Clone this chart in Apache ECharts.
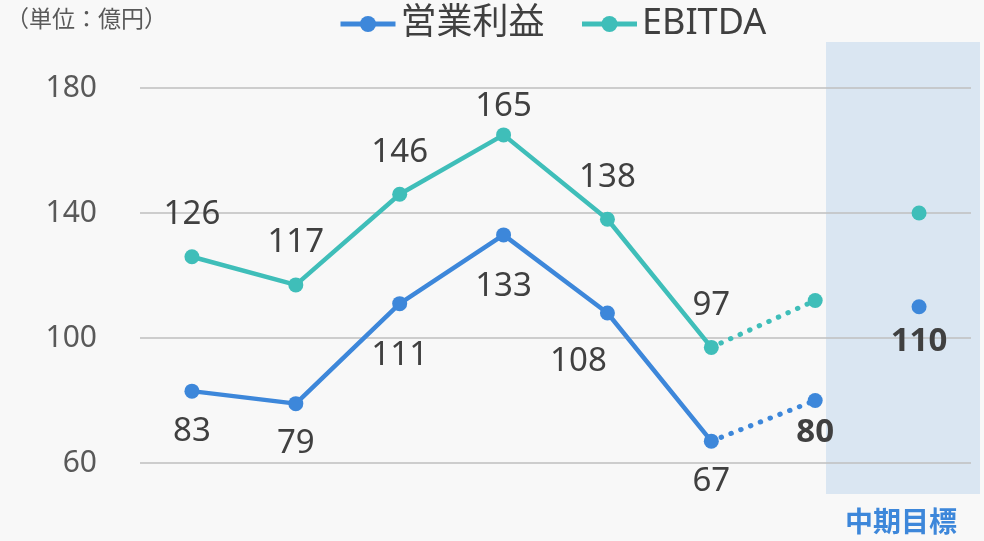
<!DOCTYPE html>
<html>
<head>
<meta charset="utf-8">
<script src="https://cdn.jsdelivr.net/npm/echarts@6/dist/echarts.min.js"></script>
<style>
  html, body { margin: 0; padding: 0; background: #f8f8f8; }
  #chart { width: 984px; height: 541px; }
</style>
</head>
<body>
<div id="chart"></div>
<script>
// 横軸のカテゴリ（ラベルは非表示）
const categories = ['1', '2', '3', '4', '5', '6', '7', '中期目標'];
// 営業利益：実績、見通し、中期目標
const opActual = [83, 79, 111, 133, 108, 67];
const opForecast = 80;
const opTarget = 110;
// EBITDA：実績、見通し、中期目標
const ebitdaActual = [126, 117, 146, 165, 138, 97];
const ebitdaForecast = 112;
const ebitdaTarget = 140;
// 縦軸の目盛
const yTicks = [60, 100, 140, 180];

const BLUE = '#3d87da';
const TEAL = '#3fbeb9';
const FONT = '"Noto Sans", "Noto Sans CJK JP", sans-serif';

const chart = echarts.init(document.getElementById('chart'));

// 実績の最後の点から見通しへの点線データ
function forecastData(actual, forecast) {
  const arr = categories.map(() => '-');
  arr[actual.length - 1] = actual[actual.length - 1];
  arr[actual.length] = forecast;
  return arr;
}
function targetData(target) {
  const arr = categories.map(() => '-');
  arr[categories.length - 1] = target;
  return arr;
}
function pad(actual) {
  return categories.map((c, i) => (i < actual.length ? actual[i] : '-'));
}
// ラベル位置の微調整（インデックス → オフセット）
function nudge(data, offsets) {
  return data.map((v, i) =>
    offsets[i] ? { value: v, label: { offset: offsets[i] } } : v
  );
}

const labelBase = {
  show: true,
  fontFamily: FONT,
  fontSize: 33,
  color: '#404040',
};

const option = {
  backgroundColor: '#f8f8f8',
  animation: false,
  legend: {
    left: 333,
    top: 1,
    itemWidth: 55,
    itemHeight: 20,
    itemGap: 35,
    lineStyle: { width: 5 },
    textStyle: { fontFamily: FONT, fontSize: 36, color: '#404040' },
    data: ['営業利益', 'EBITDA'],
  },
  graphic: [
    {
      type: 'rect',
      z: -10,
      shape: { x: 826, y: 42, width: 154, height: 452 },
      style: { fill: '#dae6f2' },
    },
    {
      type: 'text',
      left: 6,
      top: 9,
      style: {
        text: '（単位：億円）',
        fontFamily: FONT,
        fontSize: 23,
        fill: '#595959',
      },
    },
    {
      type: 'text',
      left: 845,
      top: 510,
      style: {
        text: '中期目標',
        fontFamily: FONT,
        fontSize: 28,
        fontWeight: 'bold',
        fill: BLUE,
      },
    },
  ],
  grid: { left: 140, right: 13, top: 88, bottom: 78 },
  xAxis: {
    type: 'category',
    data: categories,
    boundaryGap: true,
    axisLine: { show: false },
    axisTick: { show: false },
    axisLabel: { show: false },
  },
  yAxis: {
    type: 'value',
    min: yTicks[0],
    max: yTicks[yTicks.length - 1],
    interval: yTicks[1] - yTicks[0],
    axisLine: { show: false },
    axisTick: { show: false },
    axisLabel: {
      margin: 43,
      fontFamily: FONT,
      fontSize: 30,
      color: '#595959',
    },
    splitLine: { lineStyle: { color: '#bfbfbf', width: 1.5 } },
  },
  series: [
    {
      name: '営業利益',
      type: 'line',
      data: nudge(pad(opActual), { 2: [0, 12], 3: [0, 12], 4: [-29, 9] }),
      symbol: 'circle',
      symbolSize: 15,
      color: BLUE,
      lineStyle: { width: 4.5, color: BLUE },
      label: Object.assign({}, labelBase, { position: 'bottom', distance: 16 }),
      z: 3,
    },
    {
      name: '営業利益',
      type: 'line',
      data: forecastData(opActual, opForecast).map((v, i) =>
        i === opActual.length
          ? {
              value: v,
              symbol: 'circle',
              symbolSize: 15,
              label: Object.assign({}, labelBase, {
                position: 'bottom',
                distance: 8,
                fontWeight: 'bold',
              }),
            }
          : { value: v, symbol: 'none' }
      ),
      color: BLUE,
      lineStyle: { width: 5, color: BLUE, type: [0.5, 10], cap: 'round' },
      z: 2,
    },
    {
      name: '営業利益',
      type: 'line',
      data: targetData(opTarget),
      symbol: 'circle',
      symbolSize: 15,
      color: BLUE,
      label: Object.assign({}, labelBase, {
        position: 'bottom',
        distance: 11,
        fontWeight: 'bold',
      }),
    },
    {
      name: 'EBITDA',
      type: 'line',
      data: nudge(pad(ebitdaActual), { 3: [0, 14] }),
      symbol: 'circle',
      symbolSize: 15,
      color: TEAL,
      lineStyle: { width: 4.5, color: TEAL },
      label: Object.assign({}, labelBase, { position: 'top', distance: 18 }),
      z: 3,
    },
    {
      name: 'EBITDA',
      type: 'line',
      data: forecastData(ebitdaActual, ebitdaForecast).map((v, i) =>
        i === ebitdaActual.length
          ? { value: v, symbol: 'circle', symbolSize: 15 }
          : { value: v, symbol: 'none' }
      ),
      color: TEAL,
      lineStyle: { width: 5, color: TEAL, type: [0.5, 10], cap: 'round' },
      z: 2,
    },
    {
      name: 'EBITDA',
      type: 'line',
      data: targetData(ebitdaTarget),
      symbol: 'circle',
      symbolSize: 15,
      color: TEAL,
    },
  ],
};

chart.setOption(option);
</script>
</body>
</html>
